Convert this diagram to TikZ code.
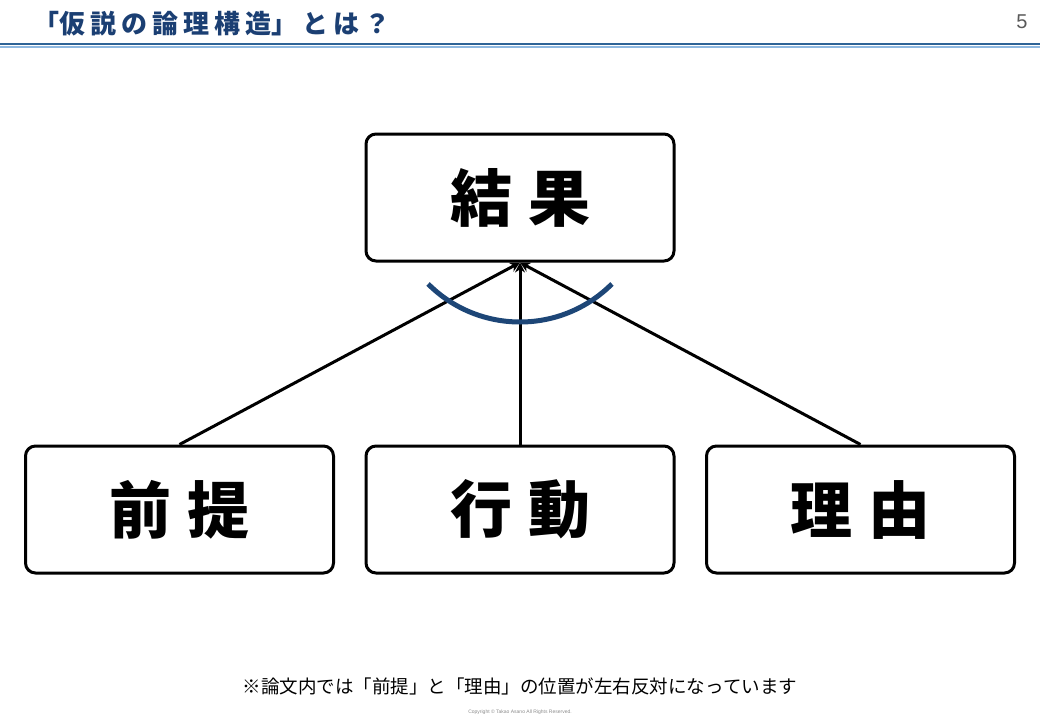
\documentclass[tikz,border=0pt]{standalone}
\usepackage{fontspec}
\usepackage{xcolor}
\usetikzlibrary{arrows.meta, positioning}
\newfontfamily\cjk{Noto Sans CJK JP}
\setsansfont{Liberation Sans}
\definecolor{titre}{HTML}{1B3F73}
\definecolor{arc}{HTML}{1D4677}
\definecolor{ligne}{HTML}{2F6497}
\definecolor{ligneclair}{HTML}{8FB8E0}
\definecolor{gris}{HTML}{595959}
\tikzset{
  boite/.style={rectangle, rounded corners=10pt, draw=black, line width=3pt,
    fill=white, minimum width=308pt, minimum height=127pt, inner sep=0pt,
    font=\cjk\bfseries\fontsize{62}{62}\selectfont},
  fleche/.style={-{Stealth[length=10pt, width=10pt]}, line width=3pt, color=black},
  titrestyle/.style={font=\cjk\bfseries\fontsize{26}{26}\selectfont, text=titre, anchor=west, inner sep=0pt},
  note/.style={font=\cjk\fontsize{18.5}{18.5}\selectfont, text=black, inner sep=0pt}
}
\begin{document}
\begin{tikzpicture}[x=1pt, y=-1pt]
  \useasboundingbox (0,0) rectangle (1040,720);
  % en-tete
  \node[titrestyle] (titre) at (33,24) {「仮\kern5pt 説\kern5pt の\kern5pt 論\kern5pt 理\kern5pt 構\kern5pt 造」\kern5pt と\kern5pt は\kern5pt ？};
  \node[font=\sffamily\fontsize{20}{20}\selectfont, text=gris, inner sep=0pt] (page) at (1022,22) {5};
  \draw[ligne, line width=1.5pt] (0,44) -- (1040,44);
  \draw[ligneclair, line width=2pt] (0,46.5) -- (1040,46.5);

  % blocs
  \node[boite] (resultat) at (520,197.5) {結\kern16pt 果};
  \node[boite] (premisse) at (179.5,509.5) {前\kern16pt 提};
  \node[boite] (action) at (520,509.5) {行\kern16pt 動};
  \node[boite] (raison) at (860.5,509.5) {理\kern16pt 由};

  \draw[fleche] (premisse.north) -- (resultat.south);
  \draw[fleche] (action.north) -- (resultat.south);
  \draw[fleche] (raison.north) -- (resultat.south);

  % arc
  \coordinate (centre) at (520,192);
  \draw[arc, line width=5pt] ([shift={(45:130)}]centre) arc[start angle=45, end angle=135, radius=130];

  % notes
  \node[note] (remarque) at (520,686) {※論文内では「前提」と「理由」の位置が左右反対になっています};
  \node[font=\sffamily\fontsize{5}{5}\selectfont, text=gris!70, inner sep=0pt] (copy) at (520,712) {Copyright © Takao Asano All Rights Reserved.};
\end{tikzpicture}
\end{document}
